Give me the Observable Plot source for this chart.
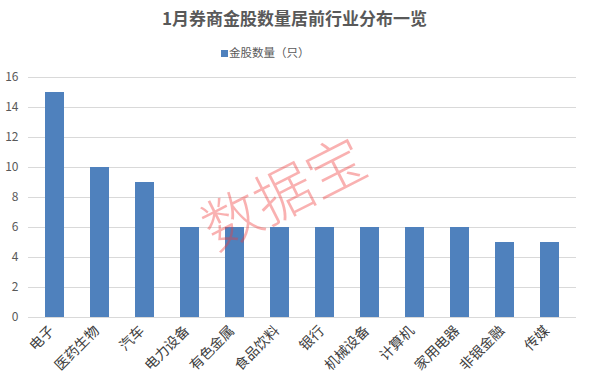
<!DOCTYPE html>
<html>
<head>
<meta charset="utf-8">
<script src="https://cdn.jsdelivr.net/npm/d3@7"></script>
<script src="https://cdn.jsdelivr.net/npm/@observablehq/plot@0.6"></script>
<style>
  html, body { margin: 0; padding: 0; background: #fff; }
  #wrap { position: relative; width: 589px; height: 383px; overflow: hidden;
    font-family: "Noto Sans CJK SC", "Noto Sans", sans-serif; }
  #title { height: 36px; line-height: 36px; text-align: center; font-size: 17px; font-weight: bold; color: #595959; }
  #legend { height: 30px; box-sizing: border-box; padding-top: 8px; padding-left: 221px; line-height: 16px; text-align: left; font-size: 11.5px; color: #595959; }
  #legend .sw { display: inline-block; width: 7px; height: 7px; background: #4f81bd; margin-right: 1px; vertical-align: 0px; }
  #wm { position: absolute; left: 282px; top: 190px; transform: translate(-50%, -50%) rotate(-27deg);
    font-size: 58px; color: rgba(240, 60, 60, 0.4); white-space: nowrap; pointer-events: none; font-weight: 300; }
</style>
</head>
<body>
<div id="wrap">
  <div id="title">1月券商金股数量居前行业分布一览</div>
  <div id="legend"><span class="sw"></span>金股数量（只）</div>
  <div id="chart"></div>
  <div id="wm">数据宝</div>
</div>
<script>
const categories = ["电子", "医药生物", "汽车", "电力设备", "有色金属", "食品饮料", "银行", "机械设备", "计算机", "家用电器", "非银金融", "传媒"];
const counts = [15, 10, 9, 6, 6, 6, 6, 6, 6, 6, 5, 5];
const yTicks = [0, 2, 4, 6, 8, 10, 12, 14, 16];

const data = categories.map((c, i) => ({ category: c, value: counts[i] }));

const chart = Plot.plot({
  width: 589,
  height: 317,
  marginTop: 11,
  marginBottom: 66,
  marginLeft: 28,
  marginRight: 13,
  style: { fontFamily: "'Noto Sans CJK SC', 'Noto Sans', sans-serif", color: "#595959", background: "#fff" },
  x: { domain: categories, paddingInner: 0.58, paddingOuter: 0.29, label: null },
  y: { domain: [0, 16], label: null },
  marks: [
    Plot.gridY(yTicks, { stroke: "#d9d9d9", strokeOpacity: 1 }),
    Plot.barY(data, { x: "category", y: "value", fill: "#4f81bd" }),
    Plot.axisY(yTicks, { tickSize: 0, tickPadding: 10, fontSize: 12, fill: "#595959" }),
    Plot.axisX({ tickSize: 0, tickPadding: 6, tickRotate: -45, fontSize: 14, fill: "#404040", dx: -3, dy: 5 })
  ]
});
document.getElementById("chart").appendChild(chart);
</script>
</body>
</html>
